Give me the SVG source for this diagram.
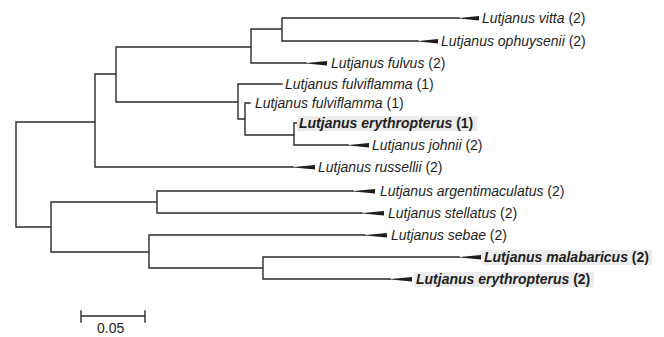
<svg xmlns="http://www.w3.org/2000/svg" width="664" height="337" viewBox="0 0 664 337">
<style>
.e{fill:none;stroke:#2b2b2b;stroke-width:1.4;stroke-linecap:square}
.w{fill:#1e1e1e;stroke:none}
.t{font-family:"Liberation Sans",Arial,sans-serif;font-size:14px;fill:#1e1e1e}
.i{font-style:italic}
.b{font-weight:bold}
.hl{fill:#ececec}
</style>
<rect width="664" height="337" fill="#ffffff"/>
<g id="connectors">
<path class="e" d="M16,122V227 M16,122H95 M95,74V167 M95,74H116 M116,47V102 M116,47H251 M251,29V63 M251,29H282 M282,18V41 M282,18H459 M282,41H418 M251,63H306 M116,102H238 M238,84V119 M238,84H282 M238,119H245 M245,103V135 M245,103H250 M245,135H294 M294,123V145 M294,123H297 M294,145H348 M95,167H293 M16,227H51 M51,202V252 M51,202H157 M157,191V213 M157,191H353 M157,213H362 M51,252H149 M149,235V268 M149,235H365 M149,268H263 M263,257V279 M263,257H459 M263,279H390"/>
</g>
<g id="wedges">
<polygon class="w" points="457,18.3 479,16 479,20.5"/>
<polygon class="w" points="416,41.3 438,39 438,43.5"/>
<polygon class="w" points="304,63.3 327,61 327,65.5"/>
<polygon class="w" points="346,145.3 369,143 369,147.5"/>
<polygon class="w" points="291,167.3 315,165 315,169.5"/>
<polygon class="w" points="351,191.3 375,189 375,193.5"/>
<polygon class="w" points="360,213.3 384,211 384,215.5"/>
<polygon class="w" points="363,235.3 387,233 387,237.5"/>
<polygon class="w" points="457,257.3 481,255 481,259.5"/>
<polygon class="w" points="388,279.3 412,277 412,281.5"/>
</g>
<g id="n-vitta"><text class="t" x="482" y="23"><tspan class="i">Lutjanus vitta</tspan> (2)</text></g>
<g id="n-ophuysenii"><text class="t" x="441" y="46"><tspan class="i">Lutjanus ophuysenii</tspan> (2)</text></g>
<g id="n-fulvus"><text class="t" x="331" y="68"><tspan class="i">Lutjanus fulvus</tspan> (2)</text></g>
<g id="n-fulviflamma1"><text class="t" x="285" y="89"><tspan class="i">Lutjanus fulviflamma</tspan> (1)</text></g>
<g id="n-fulviflamma2"><text class="t" x="255" y="108"><tspan class="i">Lutjanus fulviflamma</tspan> (1)</text></g>
<g id="n-erythropterus1"><rect class="hl" x="297" y="116" width="180" height="15"/><text class="t b" x="299" y="128"><tspan class="i">Lutjanus erythropterus</tspan> (1)</text></g>
<g id="n-johnii"><text class="t" x="372" y="150"><tspan class="i">Lutjanus johnii</tspan> (2)</text></g>
<g id="n-russellii"><text class="t" x="318" y="172"><tspan class="i">Lutjanus russellii</tspan> (2)</text></g>
<g id="n-argentimaculatus"><text class="t" x="380" y="196"><tspan class="i">Lutjanus argentimaculatus</tspan> (2)</text></g>
<g id="n-stellatus"><text class="t" x="388" y="218"><tspan class="i">Lutjanus stellatus</tspan> (2)</text></g>
<g id="n-sebae"><text class="t" x="391" y="240"><tspan class="i">Lutjanus sebae</tspan> (2)</text></g>
<g id="n-malabaricus"><rect class="hl" x="482" y="250" width="170" height="15"/><text class="t b" x="484" y="262"><tspan class="i">Lutjanus malabaricus</tspan> (2)</text></g>
<g id="n-erythropterus2"><rect class="hl" x="414" y="272" width="180" height="15"/><text class="t b" x="416" y="284"><tspan class="i">Lutjanus erythropterus</tspan> (2)</text></g>
<g id="scalebar">
<path class="e" d="M81,316H145 M81,311V322 M145,311V322"/>
<text class="t" x="97" y="333">0.05</text>
</g>
</svg>
